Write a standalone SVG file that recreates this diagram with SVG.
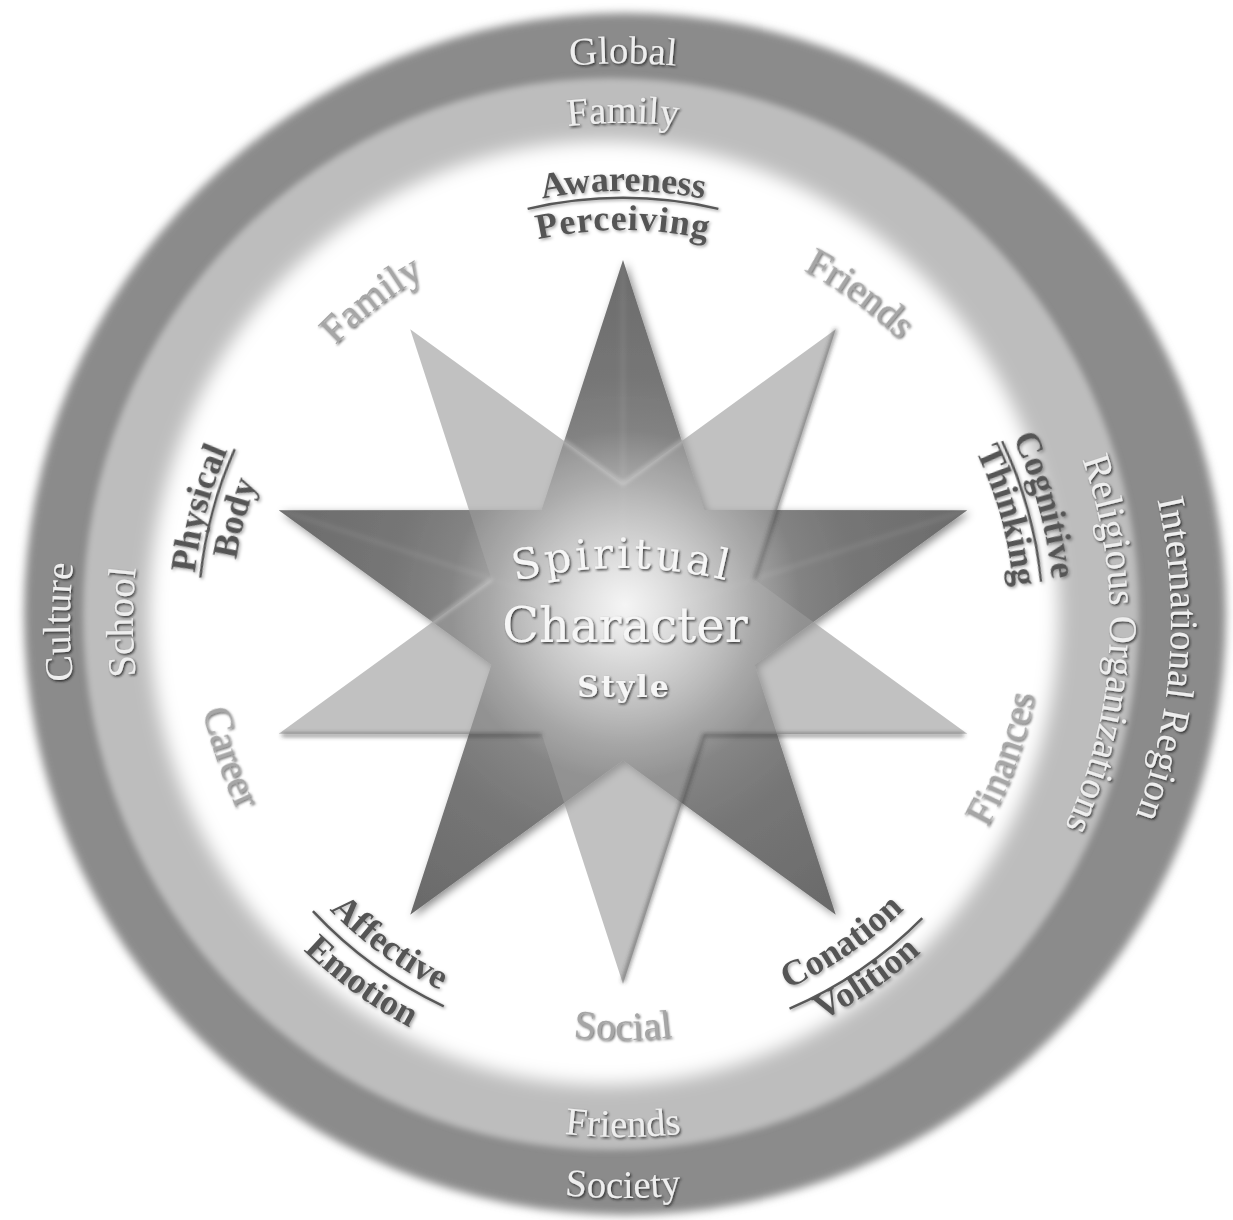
<svg xmlns="http://www.w3.org/2000/svg" xmlns:xlink="http://www.w3.org/1999/xlink" width="1233" height="1220" viewBox="0 0 1233 1220">
<defs>
<style>
.ring{font-family:"Liberation Serif","DejaVu Serif",serif;font-size:39px;fill:#eeeeee;text-anchor:middle}
.lbl{font-family:"Liberation Serif","DejaVu Serif",serif;font-size:36px;font-weight:bold;fill:#555555;text-anchor:middle}
.lite{font-family:"Liberation Serif","DejaVu Serif",serif;font-size:40px;fill:#a6a6a6;text-anchor:middle}
.ctr{font-family:"DejaVu Serif","Liberation Serif",serif;fill:#f6f6f6;text-anchor:middle}
.sep{fill:none;stroke:#595959;stroke-width:2.5}
</style>
<filter id="b4" x="-10%" y="-10%" width="120%" height="120%"><feGaussianBlur stdDeviation="4"/></filter>
<filter id="b3" x="-10%" y="-10%" width="120%" height="120%"><feGaussianBlur stdDeviation="3"/></filter>
<filter id="b8" x="-10%" y="-10%" width="120%" height="120%"><feGaussianBlur stdDeviation="9"/></filter>
<filter id="b2" x="-20%" y="-20%" width="140%" height="140%"><feGaussianBlur stdDeviation="2"/></filter>
<filter id="starSh" x="-10%" y="-10%" width="130%" height="130%"><feDropShadow dx="3" dy="3" stdDeviation="4" flood-color="#000" flood-opacity="0.45"/></filter>
<filter id="emb" x="-10%" y="-20%" width="120%" height="140%"><feDropShadow dx="1.3" dy="1.5" stdDeviation="0.9" flood-color="#222" flood-opacity="0.85"/></filter>
<filter id="embL" x="-10%" y="-20%" width="120%" height="140%"><feDropShadow dx="1.2" dy="1.4" stdDeviation="0.8" flood-color="#444" flood-opacity="0.8"/></filter>
<filter id="embD" x="-10%" y="-20%" width="120%" height="140%"><feDropShadow dx="1.5" dy="1.5" stdDeviation="1.4" flood-color="#000" flood-opacity="0.35"/></filter>
<radialGradient id="gDark" cx="623" cy="612" r="362" gradientUnits="userSpaceOnUse">
<stop offset="0" stop-color="#f2f2f2"/><stop offset="0.14" stop-color="#cfcfcf"/><stop offset="0.36" stop-color="#8e8e8e"/><stop offset="0.65" stop-color="#767676"/><stop offset="1" stop-color="#6a6a6a"/>
</radialGradient>
<radialGradient id="gGlow" cx="625" cy="605" r="175" gradientUnits="userSpaceOnUse">
<stop offset="0" stop-color="#fff" stop-opacity="0.85"/><stop offset="0.35" stop-color="#fff" stop-opacity="0.5"/><stop offset="1" stop-color="#fff" stop-opacity="0"/>
</radialGradient>
<clipPath id="darkClip"><polygon points="623,260 704.29,510.11 967.28,510.13 754.53,664.74 835.78,914.87 623,760.3 410.22,914.87 491.47,664.74 278.72,510.13 541.71,510.11"/></clipPath>
<path id="cw559" d="M64,622 A559,559 0 0 1 1182,622"/>
<path id="cw499" d="M124,622 A499,499 0 0 1 1122,622"/>
<path id="cw553" d="M70,622 A553,553 0 0 1 1176,622"/>
<path id="cw490" d="M133,622 A490,490 0 0 1 1113,622"/>
<path id="cw548" d="M75,622 A548,548 0 0 1 1171,622"/>
<path id="cw487" d="M136,622 A487,487 0 0 1 1110,622"/>
<path id="cw431" d="M192,622 A431,431 0 0 1 1054,622"/>
<path id="cw392" d="M231,622 A392,392 0 0 1 1015,622"/>
<path id="cw399" d="M224,622 A399,399 0 0 1 1022,622"/>
<path id="cw395" d="M228,622 A395,395 0 0 1 1018,622"/>
<path id="ccw515" d="M108,622 A515,515 0 0 0 1138,622"/>
<path id="ccw576" d="M47,622 A576,576 0 0 0 1199,622"/>
<path id="ccw411" d="M212,622 A411,411 0 0 0 1034,622"/>
<path id="ccw458" d="M165,622 A458,458 0 0 0 1081,622"/>
<path id="ccw402" d="M221,622 A402,402 0 0 0 1025,622"/>
<path id="ccw445" d="M178,622 A445,445 0 0 0 1068,622"/>
<path id="ccw418" d="M205,622 A418,418 0 0 0 1041,622"/>
<path id="ccw429" d="M194,622 A429,429 0 0 0 1052,622"/>
<path id="spArc" d="M172,1018 A450,450 0 0 1 1072,1018"/>
</defs>

<rect width="1233" height="1220" fill="#ffffff"/>

<g id="rings">
<circle cx="625" cy="614" r="601" fill="#8b8b8b" filter="url(#b4)"/>
<ellipse cx="611" cy="614" rx="528" ry="536" fill="#bdbdbd" filter="url(#b3)"/>
<ellipse cx="604" cy="613" rx="455" ry="472" fill="#ffffff" filter="url(#b8)"/>
</g>

<g id="star">
<polygon id="dark-star" points="623,260 704.29,510.11 967.28,510.13 754.53,664.74 835.78,914.87 623,760.3 410.22,914.87 491.47,664.74 278.72,510.13 541.71,510.11" fill="url(#gDark)" filter="url(#starSh)"/>
<g clip-path="url(#darkClip)" stroke="#ffffff" stroke-opacity="0.07" stroke-width="5" filter="url(#b2)">
<line x1="623" y1="622" x2="623" y2="260"/><line x1="623" y1="622" x2="967" y2="510"/><line x1="623" y1="622" x2="279" y2="510"/>
</g>
<polygon id="light-star" points="623,984 541.71,733.89 278.72,733.87 491.47,579.26 410.22,329.13 623,483.7 835.78,329.13 754.53,579.26 967.28,733.87 704.29,733.89" fill="#9b9b9b" fill-opacity="0.62"/>
<g fill="none" stroke="#3a3a3a" stroke-opacity="0.7" stroke-width="3" filter="url(#b2)">
<line x1="835.78" y1="329.13" x2="754.53" y2="579.26"/>
<line x1="282" y1="735" x2="541.71" y2="735"/>
<line x1="704.29" y1="735" x2="964" y2="735"/>
<line x1="623" y1="982" x2="704.29" y2="733.89"/>
</g>
<g fill="none" stroke="#ffffff" stroke-opacity="0.45" stroke-width="2.5" filter="url(#b2)" clip-path="url(#darkClip)">
<polyline points="410.22,329.13 623,483.7 835.78,329.13"/>
<line x1="491.47" y1="579.26" x2="278.72" y2="733.87"/>
</g>
<rect x="400" y="400" width="450" height="420" fill="url(#gGlow)" clip-path="url(#darkClip)"/>
</g>

<g id="center-text" filter="url(#emb)">
<text class="ctr" font-size="42" letter-spacing="3.5"><textPath href="#spArc" startOffset="50%">Spiritual</textPath></text>
<text class="ctr" x="625" y="642" font-size="48">Character</text>
<text class="ctr" x="624" y="697" font-size="30" font-weight="bold" letter-spacing="2">Style</text>
</g>

<g id="ring-labels" filter="url(#emb)">
<g id="global"><text class="ring"><textPath href="#cw559" startOffset="50%">Global</textPath></text></g>
<g id="family-ring"><text class="ring"><textPath href="#cw499" startOffset="50%">Family</textPath></text></g>
<g id="culture"><text class="ring" transform="rotate(-90 623 622)"><textPath href="#cw553" startOffset="50%">Culture</textPath></text></g>
<g id="school"><text class="ring" transform="rotate(-90 623 622)"><textPath href="#cw490" startOffset="50%">School</textPath></text></g>
<g id="international"><text class="ring" font-size="40" transform="rotate(93.9 623 622)"><textPath href="#cw548" startOffset="50%">International Region</textPath></text></g>
<g id="religious"><text class="ring" transform="rotate(92.7 623 622)"><textPath href="#cw487" startOffset="50%">Religious Organizations</textPath></text></g>
<g id="friends-ring"><text class="ring"><textPath href="#ccw515" startOffset="50%">Friends</textPath></text></g>
<g id="society"><text class="ring"><textPath href="#ccw576" startOffset="50%">Society</textPath></text></g>
</g>

<g id="domain-labels" filter="url(#embD)">
<g id="awareness">
<text class="lbl"><textPath href="#cw431" startOffset="50%">Awareness</textPath></text>
<path class="sep" d="M527.62,208.87 A424,424 0 0 1 718.38,208.87"/>
<text class="lbl" letter-spacing="1"><textPath href="#cw392" startOffset="50%">Perceiving</textPath></text>
</g>
<g id="cognitive" transform="rotate(74.5 623 622)">
<text class="lbl"><textPath href="#cw431" startOffset="50%">Cognitive</textPath></text>
<path class="sep" d="M550.07,208.38 A420,420 0 0 1 695.93,208.38"/>
<text class="lbl"><textPath href="#cw392" startOffset="50%">Thinking</textPath></text>
</g>
<g id="physical" transform="rotate(-75 623 622)">
<text class="lbl"><textPath href="#cw431" startOffset="50%">Physical</textPath></text>
<path class="sep" d="M556.52,202.23 A425,425 0 0 1 689.48,202.23"/>
<text class="lbl"><textPath href="#cw392" startOffset="50%">Body</textPath></text>
</g>
<g id="affective">
<text class="lbl" transform="rotate(36 623 622)"><textPath href="#ccw411" startOffset="50%">Affective</textPath></text>
<path class="sep" transform="rotate(216 623 622)" d="M542.1,205.79 A424,424 0 0 1 703.9,205.79"/>
<text class="lbl" transform="rotate(36 623 622)"><textPath href="#ccw458" startOffset="50%">Emotion</textPath></text>
</g>
<g id="conation">
<text class="lbl" transform="rotate(-34.3 623 622)"><textPath href="#ccw402" startOffset="50%">Conation</textPath></text>
<path class="sep" transform="rotate(145.7 623 622)" d="M542.67,208.73 A421,421 0 0 1 703.33,208.73"/>
<text class="lbl" transform="rotate(-34.3 623 622)"><textPath href="#ccw445" startOffset="50%">Volition</textPath></text>
</g>
</g>

<g id="life-labels" filter="url(#embL)">
<g id="family-inner"><text class="lite" transform="rotate(-38 623 622)"><textPath href="#cw399" startOffset="50%">Family</textPath></text></g>
<g id="friends-inner"><text class="lite" transform="rotate(35.8 623 622)"><textPath href="#cw395" startOffset="50%">Friends</textPath></text></g>
<g id="finances"><text class="lite" transform="rotate(-70.3 623 622)"><textPath href="#ccw418" startOffset="50%">Finances</textPath></text></g>
<g id="career"><text class="lite" transform="rotate(71 623 622)"><textPath href="#ccw429" startOffset="50%">Career</textPath></text></g>
<g id="social"><text class="lite"><textPath href="#ccw418" startOffset="50%">Social</textPath></text></g>
</g>
</svg>
